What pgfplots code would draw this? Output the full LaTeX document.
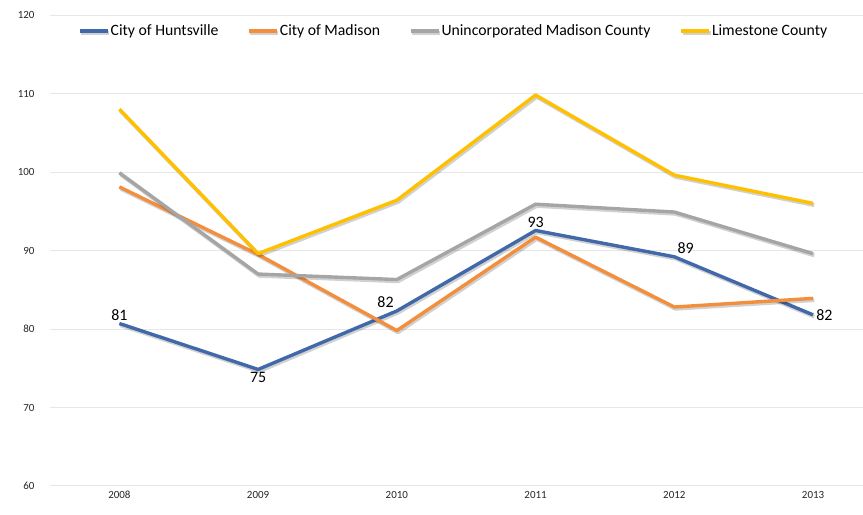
\documentclass[border=0pt]{standalone}
\usepackage{fontspec}
\setmainfont{Carlito}
\usepackage{pgfplots}
\pgfplotsset{compat=1.18}
\usepackage{pgfplotstable}
\definecolor{hsv}{HTML}{4169AA}
\definecolor{mad}{HTML}{F28E3C}
\definecolor{unc}{HTML}{A5A5A5}
\definecolor{lim}{HTML}{FFC000}
\definecolor{gridc}{HTML}{E6E6E6}
\pgfplotstableread{
x y
0 80.7
1 74.85
2 82.3
3 92.55
4 89.2
5 81.8
}\hsvtab
\pgfplotstableread{
x y
0 98.1
1 89.5
2 79.8
3 91.7
4 82.8
5 83.9
}\madtab
\pgfplotstableread{
x y
0 99.9
1 87.0
2 86.3
3 95.9
4 94.9
5 89.6
}\unctab
\pgfplotstableread{
x y
0 108.0
1 89.6
2 96.4
3 109.8
4 99.6
5 96.0
}\limtab
\tikzset{series/.style={line width=3.4bp, line join=round, draw=#1,
    preaction={draw=black, opacity=0.18, line width=3.8bp, transform canvas={xshift=1.2bp,yshift=-1.8bp}}}}
\begin{document}
\begin{tikzpicture}
\useasboundingbox (-50bp,-29bp) rectangle (813bp,486bp);
\begin{axis}[
  scale only axis,
  width=813bp, height=471bp,
  xmin=-0.5, xmax=5.36,
  ymin=60, ymax=120,
  ytick={60,70,...,120},
  xtick={0,...,5},
  xticklabels={2008,2009,2010,2011,2012,2013},
  axis line style={draw=none},
  tick style={draw=none},
  ymajorgrids,
  major grid style={gridc, line width=1bp},
  ticklabel style={font=\fontsize{11}{13}\selectfont, text=black!85},
  yticklabel style={anchor=east, xshift=-12bp},
  xticklabel style={anchor=center, yshift=-9bp},
  /pgf/number format/assume math mode=true,
  legend columns=4,
  legend style={at={(0.496,0.966)}, anchor=center, draw=none, fill=none,
    font=\fontsize{15.8}{18}\selectfont, /tikz/every even column/.append style={column sep=28bp},
    nodes={inner xsep=1bp}},
  legend image code/.code={\draw[#1, preaction={}] (0bp,0bp) -- (28bp,0bp);},
  labelnodes/.style={draw=none, forget plot, mark=none, nodes near coords, point meta=explicit symbolic,
    every node near coord/.append style={anchor=#1, font=\fontsize{16}{18}\selectfont, text=black, inner sep=3bp}},
]
\addplot[series=hsv] table[x=x,y=y] {\hsvtab};
\addlegendentry{City of Huntsville}
\addplot[series=mad] table[x=x,y=y] {\madtab};
\addlegendentry{City of Madison}
\addplot[series=unc] table[x=x,y=y] {\unctab};
\addlegendentry{Unincorporated Madison County}
\addplot[series=lim] table[x=x,y=y] {\limtab};
\addlegendentry{Limestone County}
\addplot[labelnodes=south] coordinates {(0,80.7)[81] (3,92.55)[93]};
\addplot[labelnodes=north] coordinates {(1,74.85)[75]};
\addplot[labelnodes=south east] coordinates {(2,82.3)[82]};
\addplot[labelnodes=south west] coordinates {(4,89.2)[89]};
\addplot[labelnodes=west] coordinates {(5,81.8)[82]};
\end{axis}
\end{tikzpicture}
\end{document}
